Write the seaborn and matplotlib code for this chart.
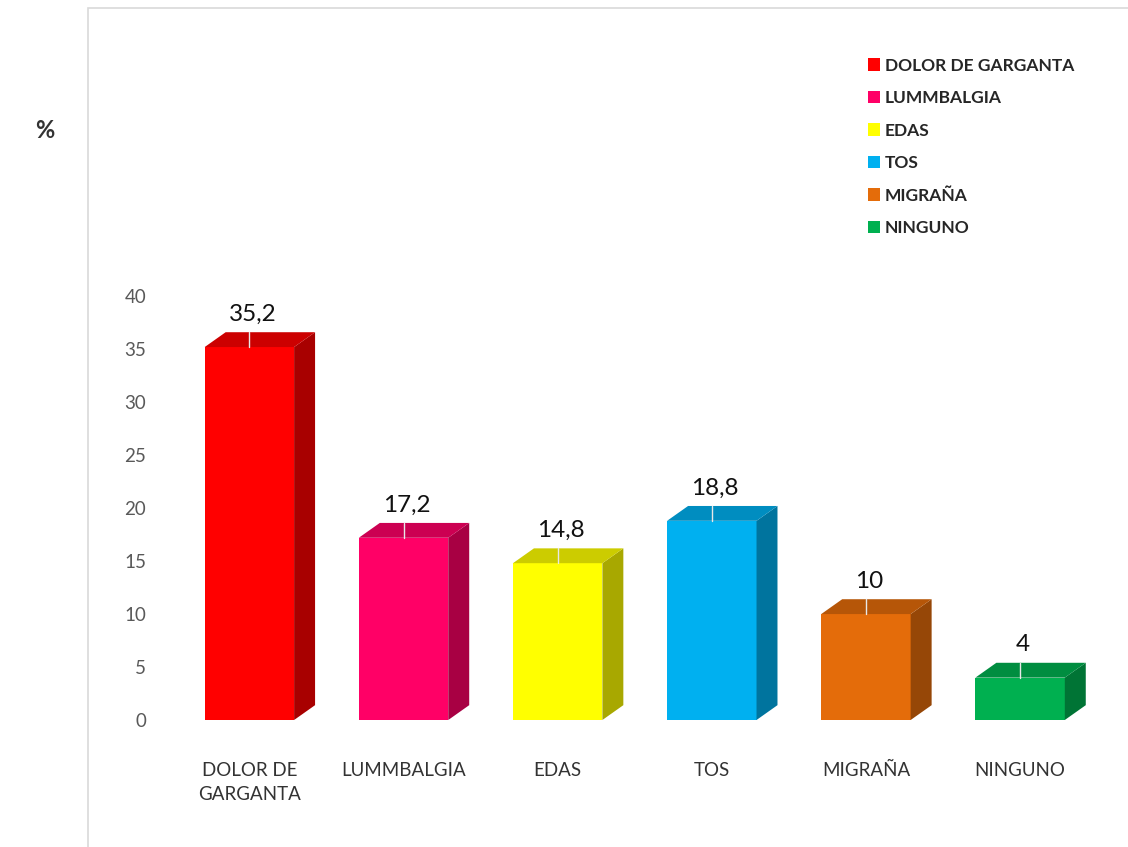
import seaborn as sns
import pandas as pd
import numpy as np
from matplotlib import pyplot as plt
from matplotlib.patches import Polygon, Patch, Rectangle
from matplotlib.colors import to_rgb

# datos
categorias = ['DOLOR DE GARGANTA', 'LUMMBALGIA', 'EDAS', 'TOS', 'MIGRAÑA', 'NINGUNO']
etiquetas_x = ['DOLOR DE\nGARGANTA', 'LUMMBALGIA', 'EDAS', 'TOS', 'MIGRAÑA', 'NINGUNO']
porcentajes = [35.2, 17.2, 14.8, 18.8, 10, 4]
etiquetas_val = ['35,2', '17,2', '14,8', '18,8', '10', '4']
colores = ['#FF0000', '#FF0066', '#FFFF00', '#00B0F0', '#E46C0A', '#00B050']
yticks = [0, 5, 10, 15, 20, 25, 30, 35, 40]

sns.set_style('white')
plt.rcParams['font.family'] = ['Lato', 'DejaVu Sans']

df = pd.DataFrame({'cat': categorias, 'val': porcentajes})

W, H = 1128, 847
fig = plt.figure(figsize=(W / 100, H / 100), dpi=100)
# ejes: cero en y=720 px, ~10.6 px por unidad
ax_left, ax_right = 160, 1128
ax_bottom, ax_top = 720, 275
ax = fig.add_axes([ax_left / W, 1 - ax_bottom / H, (ax_right - ax_left) / W, (ax_bottom - ax_top) / H])

sns.barplot(data=df, x='cat', y='val', hue='cat', palette=colores, legend=False,
            width=0.58, saturation=1, ax=ax, linewidth=0)

ax.set_xlim(-0.58, 5.70)
ax.set_ylim(0, 42)

def oscuro(c, f):
    r, g, b = to_rgb(c)
    return (r * f, g * f, b * f)

dx, dy = 0.136, 1.4
for cont, col, lab in zip(ax.containers, colores, etiquetas_val):
    for bar in cont:
        x0, w, h = bar.get_x(), bar.get_width(), bar.get_height()
        lado = Polygon([(x0 + w, 0), (x0 + w + dx, dy), (x0 + w + dx, h + dy), (x0 + w, h)],
                       closed=True, facecolor=oscuro(col, 0.66), edgecolor='none')
        tapa = Polygon([(x0, h), (x0 + dx, h + dy), (x0 + w + dx, h + dy), (x0 + w, h)],
                       closed=True, facecolor=oscuro(col, 0.8), edgecolor='none')
        ax.add_patch(lado)
        ax.add_patch(tapa)
        xc = x0 + w / 2
        ax.plot([xc, xc], [h, h + dy], color='#e8e8e8', lw=1)
        ax.text(xc + 0.02, h + dy + 0.7, lab, ha='center', va='bottom',
                fontsize=17.5, color='#111111')

ax.set_xticks(range(len(categorias)))
ax.set_xticklabels(etiquetas_x, fontsize=13.5, color='#333333', linespacing=1.5)
ax.set_yticks(yticks)
ax.set_yticklabels([str(t) for t in yticks], fontsize=13.5, color='#595959')
ax.tick_params(axis='x', length=0, pad=30)
ax.tick_params(axis='y', length=0, pad=10)
ax.set_xlabel('')
ax.set_ylabel('')
sns.despine(ax=ax, left=True, bottom=True)

# borde del area del grafico
fig.add_artist(Rectangle((88 / W, -0.01), 1.0, 1 - 8 / H + 0.01, transform=fig.transFigure,
                         fill=False, edgecolor='#d9d9d9', lw=1.2))

fig.text(45 / W, 1 - 130 / H, '%', fontsize=17, fontweight='bold', color='#333333',
         ha='center', va='center')

handles = [Patch(facecolor=c, edgecolor='none') for c in colores]
fig.legend(handles, categorias, loc='upper left', bbox_to_anchor=(852 / W, 1 - 42 / H),
           frameon=False, handlelength=0.7, handleheight=0.7,
           handletextpad=0.3, labelspacing=0.95, prop={'weight': 'bold', 'size': 12.5})

fig.savefig('out.png', dpi=100)
